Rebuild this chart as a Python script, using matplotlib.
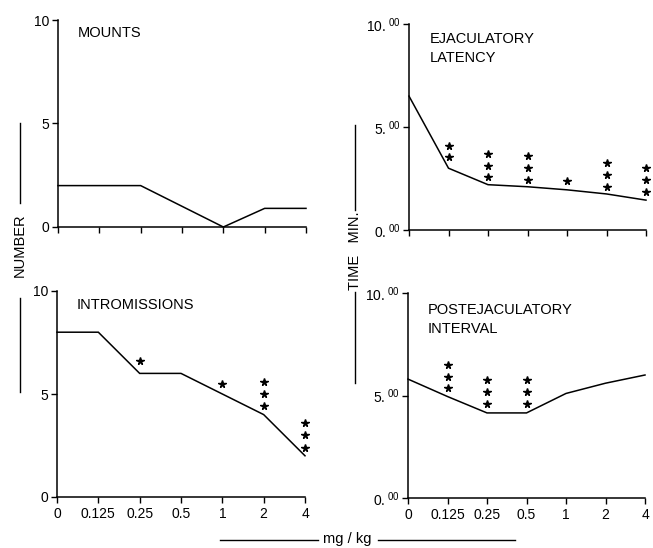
import matplotlib
matplotlib.use("Agg")
import matplotlib.pyplot as plt
from matplotlib.lines import Line2D

plt.rcParams['font.family'] = ['Liberation Sans', 'DejaVu Sans']

doses = ["0", "0.125", "0.25", "0.5", "1", "2", "4"]

mounts = [2, 2, 2, 1, 0, 0.9, 0.9]
intromissions = [8, 8, 6, 6, 5, 4, 2]
ejac_latency = [6.5, 3.0, 2.2, 2.1, 1.95, 1.75, 1.45]
postejac_interval = [5.8, 4.95, 4.15, 4.15, 5.1, 5.6, 6.0]

# significance stars: dose index -> star heights
intro_stars = {2: [6.6], 4: [5.5], 5: [5.6, 5.0, 4.4], 6: [3.6, 3.0, 2.4]}
ejac_stars = {1: [4.08, 3.53], 2: [3.7, 3.13, 2.58], 3: [3.57, 3.0, 2.41],
              4: [2.38], 5: [3.24, 2.67, 2.1], 6: [3.0, 2.43, 1.86]}
post_stars = {1: [6.48, 5.88, 5.35], 2: [5.75, 5.15, 4.59], 3: [5.75, 5.15, 4.59]}

left_ticks = [0, 5, 10]
left_ticklabels = ["0", "5", "10"]
right_ticklabels = [r"$\mathregular{0.^{00}}$", r"$\mathregular{5.^{00}}$", r"$\mathregular{10.^{00}}$"]

W, H = 653, 548
fig = plt.figure(figsize=(W / 100, H / 100), dpi=100)


def px_axes(x0, x1, ytop, ybot):
    return fig.add_axes([x0 / W, 1 - ybot / H, (x1 - x0) / W, (ybot - ytop) / H])


ax_m = px_axes(58, 306, 20, 227)
ax_i = px_axes(57, 305, 291, 497)
ax_e = px_axes(409, 646, 24, 230)
ax_p = px_axes(408, 645, 293, 498)

FS = 10
TFS = 10.5

for ax, vals, stars, right, show_x in [
    (ax_m, mounts, {}, False, False),
    (ax_i, intromissions, intro_stars, False, True),
    (ax_e, ejac_latency, ejac_stars, True, False),
    (ax_p, postejac_interval, post_stars, True, True),
]:
    xs = list(range(len(doses)))
    ax.plot(xs, vals, color='black', lw=1.1, clip_on=False, solid_joinstyle='miter')
    for k, ys in stars.items():
        ax.plot([k] * len(ys), ys, linestyle='none', marker='*', ms=5.5,
                color='black', clip_on=False)
    ax.set_xlim(0, 6)
    ax.set_ylim(0, 10)
    for s in ['top', 'right']:
        ax.spines[s].set_visible(False)
    for s in ['left', 'bottom']:
        ax.spines[s].set_linewidth(1.1)
    ax.set_xticks(xs)
    if show_x:
        ax.set_xticklabels(doses, fontsize=FS)
    else:
        ax.set_xticklabels([])
    ax.set_yticks(left_ticks)
    ax.set_yticklabels(right_ticklabels if right else left_ticklabels, fontsize=FS)
    ax.tick_params(axis='both', direction='out', length=4, width=1, pad=3)
    ax.tick_params(axis='y', pad=2)
    ax.patch.set_visible(False)

ax_m.text(0.08, 0.937, "MOUNTS", transform=ax_m.transAxes, fontsize=TFS, va='center', ha='left')
ax_i.text(0.08, 0.932, "INTROMISSIONS", transform=ax_i.transAxes, fontsize=TFS, va='center', ha='left')
ax_e.text(0.086, 0.883, "EJACULATORY\nLATENCY", transform=ax_e.transAxes, fontsize=TFS,
          va='center', ha='left', linespacing=1.45)
ax_p.text(0.082, 0.873, "POSTEJACULATORY\nINTERVAL", transform=ax_p.transAxes, fontsize=TFS,
          va='center', ha='left', linespacing=1.45)


def fline(x0, y0, x1, y1):
    fig.add_artist(Line2D([x0 / W, x1 / W], [1 - y0 / H, 1 - y1 / H], color='black', lw=1.0))


# y label left
fline(20, 123, 20, 203)
fig.text(20 / W, 1 - 245 / H, "NUMBER", rotation=90, ha='center', va='center', fontsize=TFS)
fline(20, 298, 20, 392)

# y label right
fline(355, 125, 355, 210)
fig.text(355 / W, 1 - 251 / H, "TIME   MIN.", rotation=90, ha='center', va='center', fontsize=TFS)
fline(355, 292, 355, 383)

# x label
fline(220, 540, 318, 540)
fig.text(347 / W, 1 - 539 / H, "mg / kg", ha='center', va='center', fontsize=TFS)
fline(378, 540, 515, 540)

fig.savefig("out.png", dpi=100)
